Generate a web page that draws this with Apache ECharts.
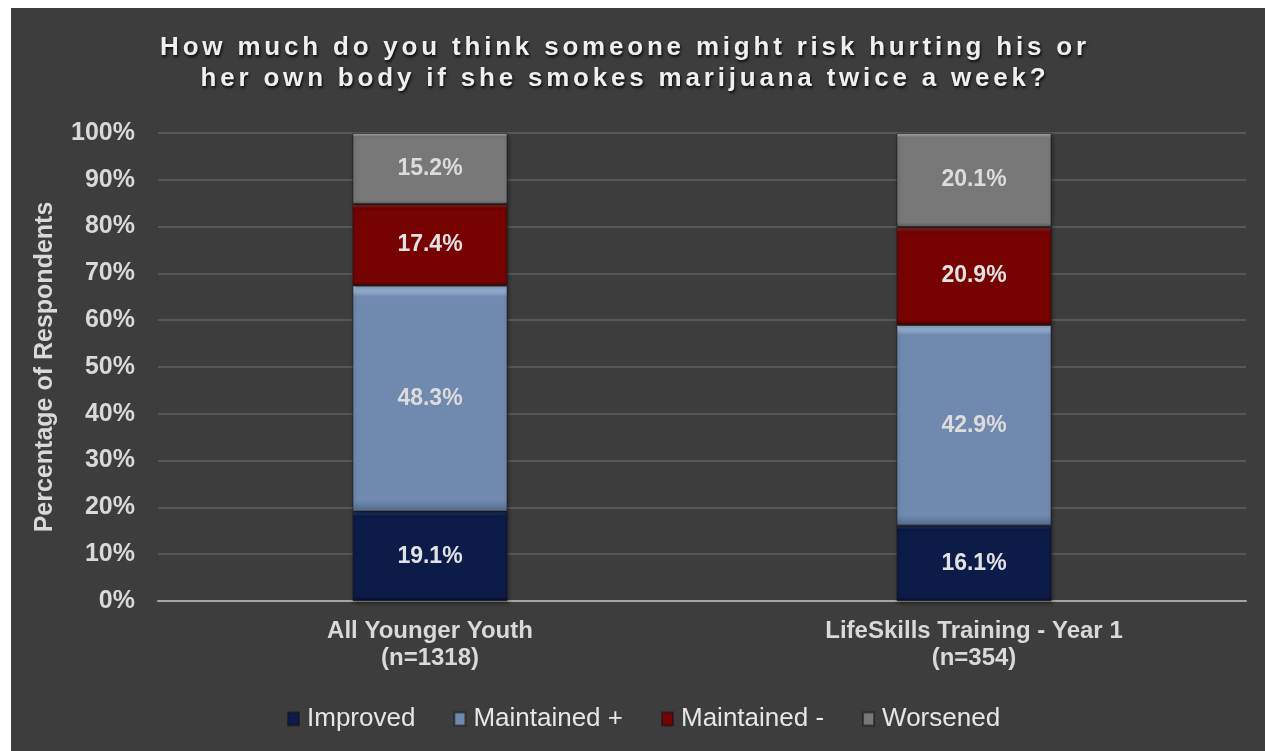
<!DOCTYPE html>
<html>
<head>
<meta charset="utf-8">
<title>Perceived risk of smoking marijuana twice a week</title>
<script src="https://cdn.jsdelivr.net/npm/echarts@6/dist/echarts.min.js"></script>
<style>
  html, body { margin: 0; padding: 0; background: #ffffff; }
  #chart { width: 1265px; height: 751px; }
</style>
</head>
<body>
<div id="chart"></div>
<script>
// Survey groups and the share of respondents in each change category (%)
const categories = ['All Younger Youth\n(n=1318)', 'LifeSkills Training - Year 1\n(n=354)'];
const seriesNames = ['Improved', 'Maintained +', 'Maintained -', 'Worsened'];
const improved = [19.1, 16.1];
const maintainedPlus = [48.3, 42.9];
const maintainedMinus = [17.4, 20.9];
const worsened = [15.2, 20.1];
const yTicks = { min: 0, max: 100, step: 10 };

const titleText = 'How much do you think someone might risk hurting his or\nher own body if she smokes marijuana twice a week?';

// The title is drawn in its own font family so that it alone gets letter spacing.
(function () {
  const proto = CanvasRenderingContext2D.prototype;
  const origFill = proto.fillText;
  proto.fillText = function (text, x, y, maxWidth) {
    if (this.font.indexOf('Liberation Sans') >= 0 && 'letterSpacing' in this) {
      const prev = this.letterSpacing;
      this.letterSpacing = '3.8px';
      const r = maxWidth === undefined ? origFill.call(this, text, x, y) : origFill.call(this, text, x, y, maxWidth);
      this.letterSpacing = prev;
      return r;
    }
    return origFill.apply(this, arguments);
  };
})();

// Bevelled fills: light top edge, flat body, darker bottom edge
function bevel(top, base, bottom) {
  return new echarts.graphic.LinearGradient(0, 0, 0, 1, [
    { offset: 0, color: top },
    { offset: 0.05, color: base },
    { offset: 0.95, color: base },
    { offset: 1, color: bottom }
  ]);
}

const palette = [
  bevel('#2f4682', '#0c1b48', '#050e2a'),
  bevel('#b8d2f4', '#7089ae', '#52698c'),
  bevel('#b83a3a', '#770202', '#4e0000'),
  bevel('#b0b0b0', '#787878', '#5a5a5a')
];
const values = [improved, maintainedPlus, maintainedMinus, worsened];
const labelColors = ['#e2e2e2', '#dcdcdc', '#e2e2e2', '#dcdcdc'];

const series = seriesNames.map((name, i) => ({
  name: name,
  type: 'bar',
  stack: 'total',
  barWidth: '28.5%',
  data: values[i],
  itemStyle: {
    color: palette[i],
    borderColor: 'rgba(20,20,20,0.55)',
    borderWidth: 1,
    shadowColor: 'rgba(0,0,0,0.45)',
    shadowBlur: 4,
    shadowOffsetX: 1,
    shadowOffsetY: 2
  },
  label: {
    show: true,
    position: 'inside',
    formatter: p => p.value.toFixed(1) + '%',
    color: labelColors[i],
    fontFamily: 'Arial',
    fontWeight: 'bold',
    fontSize: 23
  },
  emphasis: { disabled: true }
}));

const chart = echarts.init(document.getElementById('chart'), null, { renderer: 'canvas' });
chart.setOption({
  backgroundColor: '#ffffff',
  animation: false,
  graphic: [{
    type: 'rect',
    z: -100,
    silent: true,
    shape: { x: 11, y: 8, width: 1254, height: 743 },
    style: { fill: '#3d3d3d' }
  }],
  title: {
    text: titleText,
    left: 620,
    top: 27,
    textAlign: 'center',
    textStyle: {
      fontFamily: 'Liberation Sans',
      fontWeight: 'bold',
      fontSize: 26,
      lineHeight: 31,
      color: '#efefef',
      textShadowColor: 'rgba(0,0,0,0.85)',
      textShadowBlur: 3,
      textShadowOffsetX: 1,
      textShadowOffsetY: 2
    }
  },
  legend: {
    data: seriesNames,
    top: 701,
    left: 282,
    itemWidth: 11,
    itemHeight: 13,
    itemGap: 38,
    icon: 'rect',
    textStyle: { fontFamily: 'Arial', fontSize: 26, color: '#e6e6e6', padding: [0, 0, 0, 3] }
  },
  grid: { left: 158, right: 19, top: 133, bottom: 150, containLabel: false },
  xAxis: {
    type: 'category',
    data: categories,
    axisLine: { lineStyle: { color: '#a6a6a6', width: 2 } },
    axisTick: { show: false },
    axisLabel: {
      margin: 17,
      fontFamily: 'Arial',
      fontWeight: 'bold',
      fontSize: 24,
      lineHeight: 27,
      color: '#d9d9d9'
    }
  },
  yAxis: {
    type: 'value',
    min: yTicks.min,
    max: yTicks.max,
    interval: yTicks.step,
    name: 'Percentage of Respondents',
    nameLocation: 'middle',
    nameRotate: 90,
    nameGap: 100,
    nameTextStyle: { fontFamily: 'Arial', fontWeight: 'bold', fontSize: 25, color: '#d9d9d9' },
    axisLine: { show: false },
    axisTick: { show: false },
    splitLine: { lineStyle: { color: '#575757', width: 2 } },
    axisLabel: {
      margin: 23,
      formatter: '{value}%',
      fontFamily: 'Arial',
      fontWeight: 'bold',
      fontSize: 25,
      color: '#d9d9d9'
    }
  },
  series: series
});
</script>
</body>
</html>
